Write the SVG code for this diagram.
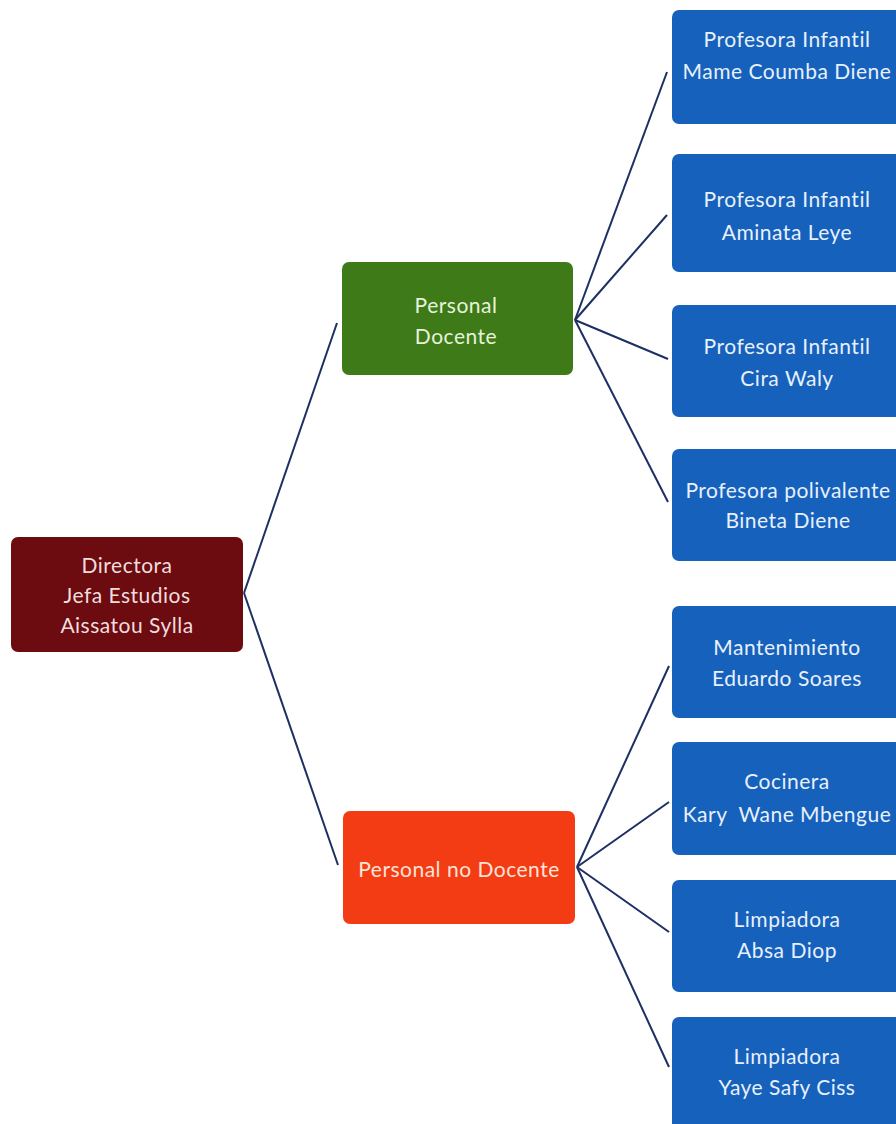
<svg xmlns="http://www.w3.org/2000/svg" width="896" height="1124" viewBox="0 0 896 1124">
<style>
.t{font-family:Lato,"Open Sans","Liberation Sans",sans-serif;font-size:21px;letter-spacing:0.5px;text-anchor:middle;}
.root rect{fill:#6c0b10;}
.root text{fill:#f0dede;}
.doc rect{fill:#3e7a17;}
.doc text{fill:#e6f2dc;}
.nodoc rect{fill:#f43c14;}
.nodoc text{fill:#fde3d8;}
.leaf rect{fill:#1561bc;}
.leaf text{fill:#e8f0fb;}
#connectors line{stroke:#1d2f63;stroke-width:2;}
</style>
<rect width="896" height="1124" fill="#ffffff"/>
<g id="connectors">
<line x1="244" y1="593" x2="337" y2="323"/>
<line x1="244" y1="593" x2="338" y2="865"/>
<line x1="575" y1="320" x2="667" y2="72"/>
<line x1="575" y1="320" x2="667" y2="215"/>
<line x1="575" y1="320" x2="668" y2="359"/>
<line x1="575" y1="320" x2="668" y2="502"/>
<line x1="577" y1="867" x2="669" y2="666"/>
<line x1="577" y1="867" x2="669" y2="802"/>
<line x1="577" y1="867" x2="669" y2="932"/>
<line x1="577" y1="867" x2="669" y2="1067"/>
</g>
<g id="root" class="root">
<rect x="11" y="537" width="232" height="115" rx="7"/>
<text class="t" x="127" y="573">Directora</text>
<text class="t" x="127" y="603">Jefa Estudios</text>
<text class="t" x="127" y="633">Aissatou Sylla</text>
</g>
<g id="docente" class="doc">
<rect x="342" y="262" width="231" height="113" rx="7"/>
<text class="t" x="456" y="313">Personal</text>
<text class="t" x="456" y="344">Docente</text>
</g>
<g id="nodocente" class="nodoc">
<rect x="343" y="811" width="232" height="113" rx="7"/>
<text class="t" x="459" y="877">Personal no Docente</text>
</g>
<g id="leaf1" class="leaf">
<rect x="672" y="10" width="240" height="114" rx="7"/>
<text class="t" x="787" y="47">Profesora Infantil</text>
<text class="t" x="787" y="79">Mame Coumba Diene</text>
</g>
<g id="leaf2" class="leaf">
<rect x="672" y="154" width="240" height="118" rx="7"/>
<text class="t" x="787" y="207">Profesora Infantil</text>
<text class="t" x="787" y="240">Aminata Leye</text>
</g>
<g id="leaf3" class="leaf">
<rect x="672" y="305" width="240" height="112" rx="7"/>
<text class="t" x="787" y="354">Profesora Infantil</text>
<text class="t" x="787" y="386">Cira Waly</text>
</g>
<g id="leaf4" class="leaf">
<rect x="672" y="449" width="240" height="112" rx="7"/>
<text class="t" x="788" y="498">Profesora polivalente</text>
<text class="t" x="788" y="528">Bineta Diene</text>
</g>
<g id="leaf5" class="leaf">
<rect x="672" y="606" width="240" height="112" rx="7"/>
<text class="t" x="787" y="655">Mantenimiento</text>
<text class="t" x="787" y="686">Eduardo Soares</text>
</g>
<g id="leaf6" class="leaf">
<rect x="672" y="742" width="240" height="113" rx="7"/>
<text class="t" x="787" y="789">Cocinera</text>
<text class="t" x="787" y="822" xml:space="preserve">Kary  Wane Mbengue</text>
</g>
<g id="leaf7" class="leaf">
<rect x="672" y="880" width="240" height="112" rx="7"/>
<text class="t" x="787" y="927">Limpiadora</text>
<text class="t" x="787" y="958">Absa Diop</text>
</g>
<g id="leaf8" class="leaf">
<rect x="672" y="1017" width="240" height="120" rx="7"/>
<text class="t" x="787" y="1064">Limpiadora</text>
<text class="t" x="787" y="1095">Yaye Safy Ciss</text>
</g>
</svg>
